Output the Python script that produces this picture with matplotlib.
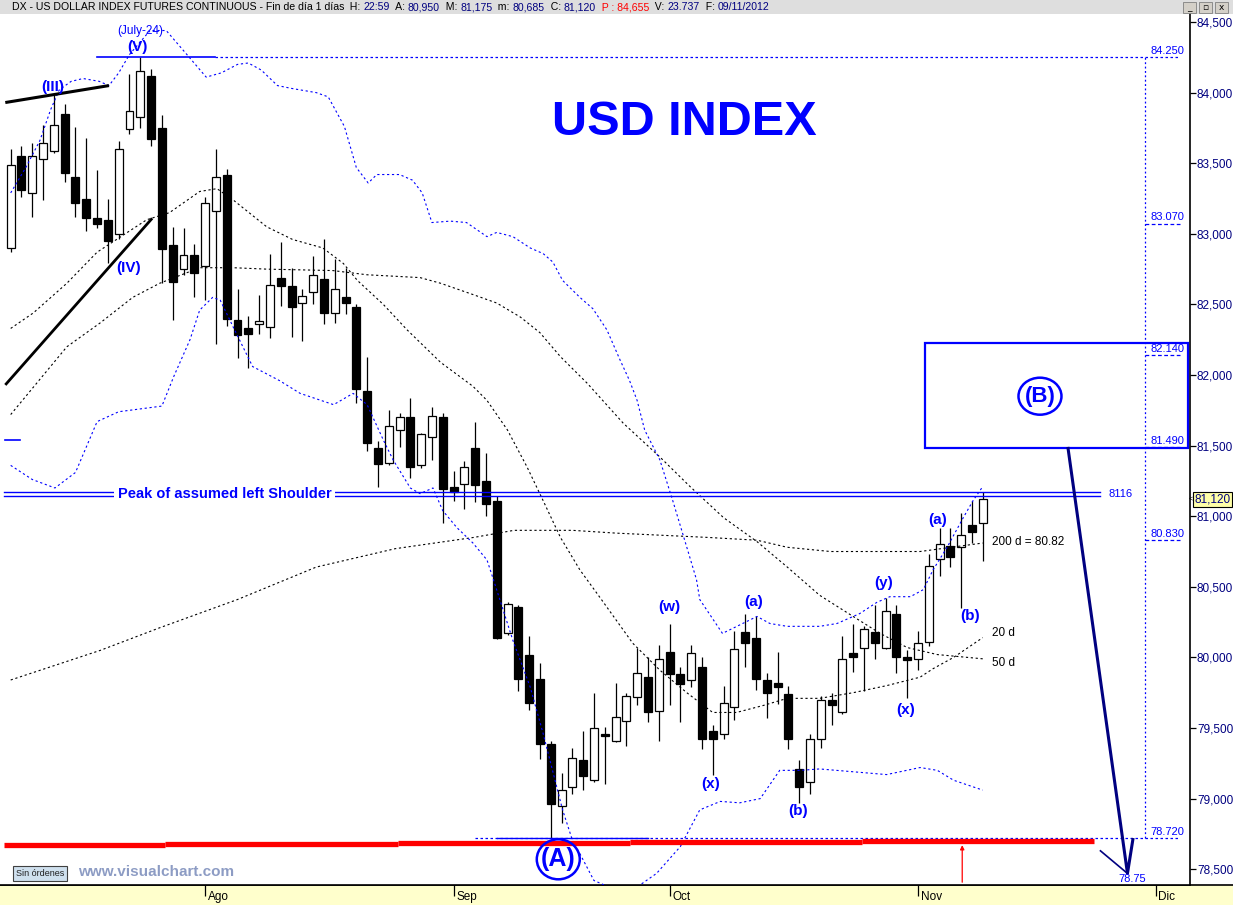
"""
USD Index (DX futures) daily candles, Jul-Nov 2012, with 20/50/200 d averages,
Bollinger bands and Elliott-wave notes, redrawn after a VisualChart screenshot.
Writes out.png (1233x905).
"""

import matplotlib

matplotlib.use("Agg")  # headless
import matplotlib.pyplot as plt
from matplotlib.lines import Line2D
from matplotlib.patches import Ellipse, Rectangle
import numpy as np
import pandas as pd

plt.rcParams["font.family"] = ["Liberation Sans", "DejaVu Sans"]

BLUE = "#0000ff"
NAVY = "#000080"
RED = "#ff0000"

# ---- data --------------------------------------------------------------
dates = pd.bdate_range("2012-07-06", "2012-11-09")  # 91 sessions
opens = [82.90, 83.55, 83.29, 83.53, 83.59, 83.85, 83.40, 83.25, 83.11, 83.10,
         83.00, 83.74, 83.83, 84.12, 83.75, 82.92, 82.75, 82.85, 82.77, 83.16,
         83.42, 82.39, 82.33, 82.36, 82.34, 82.69, 82.63, 82.51, 82.59, 82.68,
         82.44, 82.55, 82.48, 81.89, 81.48, 81.38, 81.61, 81.70, 81.36, 81.56,
         81.70, 81.21, 81.23, 81.48, 81.25, 81.11, 80.17, 80.36, 80.02, 79.85,
         79.39, 78.95, 79.08, 79.27, 79.13, 79.46, 79.41, 79.55, 79.72, 79.86,
         79.62, 80.04, 79.88, 79.84, 79.93, 79.48, 79.46, 79.65, 80.18, 80.14,
         79.84, 79.82, 79.74, 79.21, 79.12, 79.42, 79.70, 79.61, 80.03, 80.07,
         80.18, 80.07, 80.31, 80.00, 79.99, 80.11, 80.70, 80.79, 80.78, 80.94,
         80.95]
highs = [83.60, 83.62, 83.64, 83.77, 83.98, 83.92, 83.76, 83.68, 83.45, 83.25,
         83.66, 84.13, 84.25, 84.17, 83.84, 83.05, 83.04, 82.93, 83.26, 83.60,
         83.46, 82.61, 82.42, 82.57, 82.86, 82.94, 82.76, 82.61, 82.84, 82.96,
         82.82, 82.76, 82.50, 82.13, 81.53, 81.75, 81.73, 81.84, 81.59, 81.77,
         81.73, 81.32, 81.39, 81.67, 81.45, 81.14, 80.39, 80.37, 80.15, 79.96,
         79.41, 79.18, 79.36, 79.48, 79.75, 79.51, 79.82, 79.75, 80.07, 80.00,
         80.09, 80.24, 79.93, 80.09, 80.00, 79.52, 79.80, 80.19, 80.31, 80.29,
         79.89, 80.04, 79.80, 79.27, 79.46, 79.73, 79.75, 80.15, 80.24, 80.22,
         80.37, 80.42, 80.37, 80.05, 80.19, 80.73, 80.92, 80.92, 81.02, 81.11,
         81.175]
lows = [82.87, 83.26, 83.12, 83.24, 83.57, 83.37, 83.12, 83.02, 83.04, 82.79,
        82.96, 83.71, 83.75, 83.62, 82.65, 82.39, 82.71, 82.55, 82.53, 82.22,
        82.35, 82.12, 82.05, 82.29, 82.26, 82.49, 82.27, 82.24, 82.50, 82.36,
        82.37, 82.43, 81.80, 81.46, 81.21, 81.36, 81.49, 81.27, 81.34, 81.40,
        80.95, 81.11, 81.05, 81.10, 81.00, 80.13, 80.16, 79.76, 79.63, 79.28,
        78.72, 78.83, 79.03, 79.06, 79.12, 79.10, 79.40, 79.37, 79.66, 79.54,
        79.41, 79.66, 79.54, 79.79, 79.35, 79.17, 79.42, 79.56, 79.93, 79.77,
        79.57, 79.67, 79.35, 78.97, 79.03, 79.36, 79.52, 79.60, 79.90, 79.76,
        79.99, 80.06, 79.89, 79.71, 79.91, 80.08, 80.58, 80.64, 80.35, 80.81,
        80.685]
closes = [83.49, 83.31, 83.55, 83.64, 83.77, 83.43, 83.22, 83.11, 83.07, 82.95,
          83.60, 83.87, 84.15, 83.67, 82.89, 82.66, 82.85, 82.72, 83.22, 83.40,
          82.40, 82.28, 82.29, 82.38, 82.64, 82.63, 82.48, 82.56, 82.71, 82.44,
          82.61, 82.51, 81.90, 81.52, 81.37, 81.64, 81.70, 81.35, 81.58, 81.71,
          81.19, 81.17, 81.35, 81.22, 81.09, 80.14, 80.38, 79.85, 79.68, 79.39,
          78.96, 79.06, 79.29, 79.16, 79.50, 79.44, 79.58, 79.73, 79.89, 79.61,
          79.99, 79.88, 79.81, 80.03, 79.42, 79.42, 79.68, 80.06, 80.10, 79.85,
          79.75, 79.79, 79.42, 79.08, 79.42, 79.70, 79.66, 79.99, 80.00, 80.20,
          80.10, 80.33, 80.00, 79.98, 80.10, 80.65, 80.80, 80.71, 80.87, 80.89,
          81.12]

# indicator lines, read at points along the curve (session index, price)
ma20_x = [0, 2.1, 5.2, 8, 10.8, 12.6, 14.7, 17.5, 19.1, 20.6, 23.7, 26.1, 28.9,
          30.8, 32.1, 34.5, 36.7, 39.8, 42.8, 44.1, 46, 47.8, 49.3, 50.9, 52.7,
          54.6, 57.6, 60.1, 62.6, 65, 67.2, 69.7, 71.9, 74.9, 78, 81.1, 84.2,
          85.4, 87.3, 90]
ma20_y = [82.33, 82.44, 82.65, 82.87, 83.01, 83.10, 83.15, 83.30, 83.32, 83.24,
          83.05, 82.96, 82.90, 82.79, 82.67, 82.50, 82.32, 82.09, 81.92, 81.82,
          81.61, 81.35, 81.11, 80.85, 80.62, 80.42, 80.10, 79.91, 79.75, 79.61,
          79.61, 79.66, 79.71, 79.71, 79.75, 79.80, 79.86, 79.92, 80.00, 80.14]
ma50_x = [0, 5.2, 8.3, 11.3, 13.8, 17.5, 20.6, 23.7, 29.8, 33, 37.9, 39.8, 42.8,
          45, 47.2, 49, 50.9, 53.4, 56.7, 60.1, 62.9, 66, 69.1, 71.9, 74.9, 78,
          80.5, 83, 85.8, 90]
ma50_y = [81.72, 82.20, 82.37, 82.55, 82.65, 82.76, 82.76, 82.75, 82.74, 82.71,
          82.69, 82.65, 82.57, 82.51, 82.41, 82.30, 82.13, 81.94, 81.66, 81.42,
          81.21, 80.99, 80.82, 80.64, 80.44, 80.29, 80.17, 80.07, 80.02, 79.99]
ma200_x = [0, 8.3, 13.8, 21, 28.3, 35.6, 42.9, 46.6, 52, 56.1, 64.5, 69.1, 71.9,
           75.9, 84.2, 90]
ma200_y = [79.84, 80.05, 80.21, 80.41, 80.64, 80.77, 80.85, 80.90, 80.90, 80.88,
           80.85, 80.83, 80.78, 80.75, 80.75, 80.81]
bb_up_x = [0, 1.4, 2.7, 3.7, 4.5, 5.6, 6.7, 8.2, 9.1, 10, 11, 12.9, 14.4, 16.2,
           18.1, 19.5, 21, 22, 23.2, 24.7, 26, 28.3, 29.4, 30.9, 32, 33.1, 33.9,
           36, 37.2, 38.1, 39, 40.7, 42.2, 44.1, 45, 46.5, 48.1, 49.3, 50.2, 51.1,
           52.7, 53.9, 55.2, 56.4, 57.3, 58, 58.7, 60.1, 61.3, 62.6, 63.5, 63.8,
           65.9, 67.5, 69.1, 70.3, 71.9, 74.9, 76.5, 78.6, 80.2, 81.4, 83.3, 84.5,
           85.4, 86.7, 88.2, 89.1, 90]
bb_up_y = [83.29, 83.47, 83.66, 83.88, 84.02, 84.08, 84.10, 84.08, 84.05, 84.14,
           84.27, 84.44, 84.44, 84.28, 84.11, 84.14, 84.20, 84.21, 84.16, 84.05,
           84.03, 84.00, 83.97, 83.76, 83.47, 83.36, 83.42, 83.42, 83.38, 83.29,
           83.08, 83.09, 83.08, 82.98, 83.01, 82.98, 82.90, 82.86, 82.80, 82.67,
           82.55, 82.47, 82.32, 82.11, 81.96, 81.82, 81.61, 81.40, 81.11, 80.78,
           80.55, 80.41, 80.17, 80.23, 80.29, 80.24, 80.22, 80.22, 80.24, 80.31,
           80.39, 80.43, 80.43, 80.48, 80.62, 80.78, 80.99, 81.11, 81.21]
bb_lo_x = [0, 2, 4.1, 6, 8, 10, 14, 15.1, 16.6, 17.5, 18.7, 19.4, 20.6, 22.4,
           24.9, 26.8, 29.9, 31.7, 33, 34.5, 35.4, 37, 37.9, 39.1, 40, 41.3, 42.8,
           44.1, 44.7, 46.5, 48.1, 49.3, 50.1, 51.1, 52.2, 52.7, 54, 55.5, 56.9,
           58.3, 59.8, 62, 63.8, 65.7, 67.5, 69.4, 71.2, 73.1, 74.9, 78, 81.1,
           84.2, 85.8, 87.3, 90]
bb_lo_y = [81.36, 81.26, 81.20, 81.31, 81.67, 81.74, 81.78, 81.99, 82.25, 82.46,
           82.55, 82.53, 82.34, 82.06, 81.96, 81.87, 81.79, 81.87, 81.79, 81.54,
           81.40, 81.20, 81.16, 81.20, 81.04, 80.92, 80.81, 80.69, 80.55, 80.12,
           79.79, 79.46, 79.22, 78.92, 78.66, 78.61, 78.42, 78.37, 78.33, 78.39,
           78.47, 78.66, 78.92, 78.98, 78.97, 79.00, 79.20, 79.20, 79.21, 79.19,
           79.17, 79.22, 79.20, 79.13, 79.06]

# hand-drawn levels and notes (session index, price)
wave_labels = [("(III)", 3.9, 84.04), ("(V)", 11.7, 84.32), ("(IV)", 10.9, 82.76),
               ("(w)", 61.0, 80.36), ("(a)", 68.8, 80.39), ("(x)", 64.8, 79.10),
               ("(b)", 72.9, 78.91), ("(y)", 80.8, 80.53), ("(x)", 82.9, 79.63),
               ("(a)", 85.8, 80.97), ("(b)", 88.8, 80.29)]
target_levels = [84.25, 83.07, 82.14, 81.49, 80.83, 78.72]
shoulder_level = 81.16
box_b = (84.7, 81.48, 109.0, 82.23)  # x0, y0, x1, y1
trend_iii = ([-0.5, 9.1], [83.93, 84.05])
trend_iv = ([-0.5, 13.1], [81.93, 83.11])
arrow_main = ([97.9, 103.4, 103.9], [81.48, 78.47, 78.71])
arrow_arm = ([100.9, 103.4], [78.63, 78.47])
support_steps = [(-0.6, 14.3, 78.67), (14.3, 35.9, 78.68), (35.9, 57.3, 78.685),
                 (57.3, 78.8, 78.69), (78.8, 100.3, 78.70)]
month_names = {8: "Ago", 9: "Sep", 10: "Oct", 11: "Nov", 12: "Dic"}

TITLE_PARTS = [
    ("DX - US DOLLAR INDEX FUTURES CONTINUOUS - Fin de día 1 días", "black"),
    ("  H: ", "black"), ("22:59", NAVY), ("  A: ", "black"), ("80,950", NAVY),
    ("  M: ", "black"), ("81,175", NAVY), ("  m: ", "black"), ("80,685", NAVY),
    ("  C: ", "black"), ("81,120", NAVY), ("  P : 84,655", RED),
    ("  V: ", "black"), ("23.737", NAVY), ("  F: ", "black"), ("09/11/2012", NAVY),
]

# ---- figure / panel geometry (pixels) ----------------------------------
PX_W, PX_H = 1233, 905
AX_L, AX_R, AX_T, AX_B = 0, 1190, 14, 885
XLIM = (-0.99, 109.19)
YLIM = (78.388, 84.557)

fig = plt.figure(figsize=(PX_W / 100, PX_H / 100), dpi=100)
fig.patch.set_facecolor("white")
ax = fig.add_axes([AX_L / PX_W, (PX_H - AX_B) / PX_H,
                   (AX_R - AX_L) / PX_W, (AX_B - AX_T) / PX_H])
ax.set_xlim(*XLIM)
ax.set_ylim(*YLIM)
px_x = (AX_R - AX_L) / (XLIM[1] - XLIM[0])  # pixels per session
px_y = (AX_B - AX_T) / (YLIM[1] - YLIM[0])  # pixels per index point

# bottom date band + title bar (kept underneath the axes artists)
fig.patches.append(Rectangle((0, 0), 1, (PX_H - AX_B) / PX_H, transform=fig.transFigure,
                             fc="#ffffcc", ec="none", zorder=-5))
fig.lines.append(Line2D([0, 1], [(PX_H - AX_B) / PX_H] * 2, transform=fig.transFigure,
                        color="black", lw=1.2, zorder=-4))
fig.patches.append(Rectangle((0, 1 - AX_T / PX_H), 1, AX_T / PX_H, transform=fig.transFigure,
                             fc="#dedede", ec="none", zorder=-5))

# ---- candles -----------------------------------------------------------
k = np.arange(len(dates))
o, h, l, c = map(np.asarray, (opens, highs, lows, closes))
ax.vlines(k, l, h, color="black", lw=0.9, zorder=2)
up = c >= o
body_lo = np.minimum(o, c)
body_h = np.maximum(np.abs(c - o), 1.2 / px_y)
ax.bar(k, body_h, bottom=body_lo, width=0.74, color=np.where(up, "white", "black"),
       edgecolor="black", linewidth=0.9, zorder=3)

# ---- averages and bands ------------------------------------------------
dots = (0, (2.0, 2.4))
for xs, ys, col in [(ma20_x, ma20_y, "black"), (ma50_x, ma50_y, "black"),
                    (ma200_x, ma200_y, "black"), (bb_up_x, bb_up_y, BLUE),
                    (bb_lo_x, bb_lo_y, BLUE)]:
    ax.plot(xs, ys, color=col, lw=0.8, ls=dots, zorder=4)

# ---- drawn trend lines and levels --------------------------------------
ax.plot(*trend_iii, color="black", lw=2.2, zorder=5, solid_capstyle="butt")
ax.plot(*trend_iv, color="black", lw=2.0, zorder=5, solid_capstyle="butt")
ax.plot([8.0, 18.9], [target_levels[0]] * 2, color=BLUE, lw=1.2, zorder=5)
ax.plot([18.9, 108.3], [target_levels[0]] * 2, color=BLUE, lw=0.9, ls=(0, (2, 2)), zorder=5)
ax.plot([105.0, 105.0], [target_levels[-1], target_levels[0]], color=BLUE, lw=0.9,
        ls=(0, (1.5, 2)), zorder=5)
for lev in target_levels[1:-1]:
    ax.plot([105.0, 108.3], [lev, lev], color=BLUE, lw=0.9, ls=(0, (3, 2)), zorder=5)
ax.plot([43.0, 108.3], [78.72, 78.72], color=BLUE, lw=0.9, ls=(0, (2, 2)), zorder=4)
ax.plot([45.0, 59.0], [78.72, 78.72], color=BLUE, lw=1.0, zorder=4)
for lev, txt in zip(target_levels, ["84.250", "83.070", "82.140", "81.490", "80.830", "78.720"]):
    ax.text(105.5, lev + 1.5 / px_y, txt, color=BLUE, fontsize=8, ha="left", va="bottom",
            zorder=6)
ax.text(102.6, YLIM[0] + 1 / px_y, "78.75", color=BLUE, fontsize=8, ha="left",
        va="bottom", zorder=6)

for x0, x1, lev in support_steps:
    ax.plot([x0, x1], [lev, lev], color=RED, lw=3.8, solid_capstyle="butt", zorder=5)
ax.annotate("", xy=(88.1, 78.69), xytext=(88.1, YLIM[0]),
            arrowprops=dict(arrowstyle="-|>", color=RED, lw=0.9, mutation_scale=6),
            zorder=5)

# shoulder neckline (double line) with its label
for off in (0.015, -0.015):
    ax.plot([-0.6, 100.9], [shoulder_level + off] * 2, color=BLUE, lw=1.0, zorder=5)
ax.text(19.8, shoulder_level, "Peak of assumed left Shoulder", color=BLUE, fontsize=10.5,
        fontweight="bold", ha="center", va="center", zorder=6,
        bbox=dict(fc="white", ec="none", pad=2.5))
ax.text(101.6, shoulder_level, "8116", color=BLUE, fontsize=8, ha="left", va="center",
        zorder=6)
ax.plot([-0.5, 0.86], [81.54, 81.54], color=BLUE, lw=1.2, zorder=5)

# (B) target box and projection arrow
bx0, by0, bx1, by1 = box_b
ax.add_patch(Rectangle((bx0, by0), bx1 - bx0, by1 - by0, fill=False, ec=BLUE, lw=1.6,
                       zorder=5))
ax.plot(*arrow_main, color=NAVY, lw=2.2, zorder=5)
ax.plot(*arrow_arm, color=NAVY, lw=1.2, zorder=5)

# ---- wave labels -------------------------------------------------------
for txt, x, y in wave_labels:
    ax.text(x, y, txt, color=BLUE, fontsize=11, fontweight="bold", ha="center",
            va="center", zorder=6)
ax.text(12.0, 84.44, "(July-24)", color=BLUE, fontsize=8.5, ha="center", va="center",
        zorder=6)
for txt, x, y, fs, w, hgt in [("(A)", 50.7, 78.57, 18, 43, 40),
                              ("(B)", 95.3, 81.85, 16, 43, 37)]:
    ax.text(x, y, txt, color=BLUE, fontsize=fs, fontweight="bold", ha="center",
            va="center", zorder=6)
    ax.add_patch(Ellipse((x, y), w / px_x, hgt / px_y, fill=False, ec=BLUE, lw=1.8,
                         zorder=6))
ax.text(62.4, 83.79, "USD INDEX", color=BLUE, fontsize=35, fontweight="bold",
        ha="center", va="center", zorder=6)
ax.text(90.9, 80.82, "200 d = 80.82", color="black", fontsize=8.5, ha="left",
        va="center", zorder=6)
ax.text(90.9, 80.17, "20 d", color="black", fontsize=8.5, ha="left", va="center", zorder=6)
ax.text(90.9, 79.96, "50 d", color="black", fontsize=8.5, ha="left", va="center", zorder=6)

# ---- axes --------------------------------------------------------------
for side in ("top", "left"):
    ax.spines[side].set_visible(False)
ax.spines["right"].set_linewidth(1.2)
ax.spines["bottom"].set_linewidth(1.2)
ax.yaxis.tick_right()
yt = np.arange(78.5, 84.51, 0.5)
ax.set_yticks(yt, [f"{v:.3f}".replace(".", ",") for v in yt])
ax.tick_params(axis="y", length=4, width=0.9, pad=1, labelsize=8.5, labelcolor=NAVY)

all_days = pd.bdate_range("2012-07-06", "2012-12-31")
month_pos = [i for i in range(1, len(all_days)) if all_days[i].month != all_days[i - 1].month]
ax.set_xticks(month_pos, [""] * len(month_pos))
ax.tick_params(axis="x", length=8, width=0.9)
for pos in month_pos:
    ax.annotate(month_names[all_days[pos].month], xy=(pos, 0),
                xycoords=("data", "axes fraction"), xytext=(2, -4.5),
                textcoords="offset points", ha="left", va="top", fontsize=8.5,
                annotation_clip=False)

# last price flag on the scale
ax.annotate("81,120", xy=(1.0, 81.12), xycoords=("axes fraction", "data"), xytext=(3.5, 0),
            textcoords="offset points", ha="left", va="center", fontsize=8.5,
            color=NAVY, annotation_clip=False,
            bbox=dict(fc="#ffffa8", ec="black", lw=0.8, pad=1.0))
ax.annotate("<", xy=(1.0, 81.12), xycoords=("axes fraction", "data"), xytext=(-1, 0),
            textcoords="offset points", ha="left", va="center", fontsize=5,
            annotation_clip=False)

# ---- title bar, footer -------------------------------------------------
renderer = fig.canvas.get_renderer()
tx = 12
for txt, col in TITLE_PARTS:
    t = fig.text(tx / PX_W, 1 - 7.5 / PX_H, txt, color=col, fontsize=7.6, ha="left",
                 va="center")
    tx += t.get_window_extent(renderer).width
for i, glyph in enumerate(["_", "▫", "x"]):
    x0 = 1183 + i * 16
    fig.patches.append(Rectangle((x0 / PX_W, 1 - 13 / PX_H), 13 / PX_W, 11 / PX_H,
                                 transform=fig.transFigure, fc="#d4d0c8", ec="#808080",
                                 lw=0.6))
    fig.text((x0 + 6.5) / PX_W, 1 - 7.5 / PX_H, glyph, fontsize=6.5, ha="center",
             va="center", family=["DejaVu Sans"])

fig.text(40 / PX_W, 1 - 873.5 / PX_H, "Sin órdenes", fontsize=6.5, ha="center",
         va="center", color="#202020",
         bbox=dict(fc="#cfe0ee", ec="#404040", lw=0.8, boxstyle="square,pad=0.35"))
fig.text(78 / PX_W, 1 - 872 / PX_H, "www.visualchart.com", fontsize=11, fontweight="bold",
         color="#8d9cc4", ha="left", va="center")

fig.savefig("out.png", dpi=100)
